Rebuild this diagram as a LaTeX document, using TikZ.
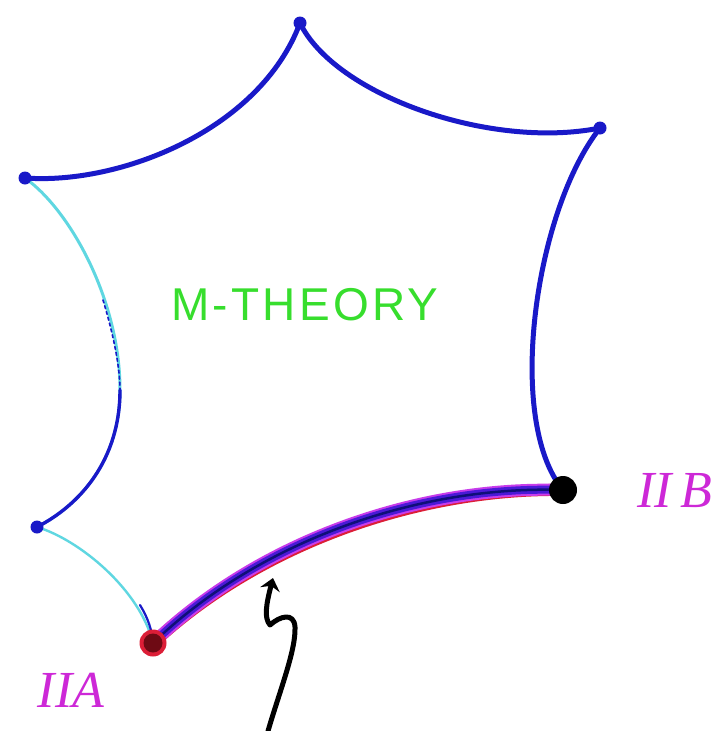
\documentclass[tikz,border=0pt]{standalone}
\usepackage{fontspec}
\setmainfont{Liberation Serif}
\newfontfamily\titlefont{Liberation Sans}
\usetikzlibrary{arrows.meta}
\definecolor{edgeblue}{RGB}{25,25,200}
\definecolor{edgecyan}{RGB}{95,215,225}
\definecolor{mgreen}{RGB}{55,222,45}
\definecolor{mmag}{RGB}{205,40,215}
\definecolor{stripred}{RGB}{220,30,55}
\definecolor{stripblue}{RGB}{75,25,215}
\definecolor{stripmag}{RGB}{200,60,235}
\definecolor{darkred}{RGB}{110,10,20}
\begin{document}
\begin{tikzpicture}[x=1pt,y=-1pt,
  bluedge/.style={edgeblue,line width=5pt,line cap=round},
  cyanedge/.style={edgecyan,line width=3pt,line cap=round},
  thinblue/.style={edgeblue,line width=2pt,line cap=round},
  vdot/.style={circle,fill=edgeblue,inner sep=0pt,minimum size=13pt},
  lab/.style={text=mmag,font=\itshape\fontsize{52}{56}\selectfont,inner sep=0pt}]
\useasboundingbox (0,0) rectangle (727,731);
\fill[white] (0,0) rectangle (727,731);
% corners
\coordinate (UL) at (25,178);
\coordinate (T) at (300,23);
\coordinate (TR) at (600,128);
\coordinate (B) at (563,490);
\coordinate (A) at (153,643);
\coordinate (LL) at (37,527);
\coordinate (LM) at (120,390);
% blue edges
\draw[bluedge] (UL) .. controls (120,185) and (260,130) .. (T);
\draw[bluedge] (T) .. controls (335,95) and (490,150) .. (TR);
\draw[bluedge] (TR) .. controls (535,210) and (505,420) .. (B);
% left edges (cyan with dark blue overlay)
\draw[cyanedge] (UL) .. controls (70,210) and (120,300) .. (LM);
\draw[cyanedge] (LM) .. controls (120,460) and (80,505) .. (LL);
\draw[thinblue,line width=1.6pt,dash pattern=on 3pt off 3pt] (103,300) .. controls (115,340) and (120,370) .. (LM);
\draw[thinblue,line width=3.4pt] (LM) .. controls (120,460) and (80,505) .. (LL);
\draw[cyanedge,line width=2.4pt] (LL) .. controls (80,540) and (140,590) .. (A);
\draw[thinblue,line width=2.2pt] (140,605) .. controls (148,618) and (152,630) .. (A);
% thick IIA--IIB strip
\begin{scope}[shift={(0,3)}]
\draw[stripred,line width=12pt,line cap=round] (B) .. controls (420,485) and (260,540) .. (A);
\end{scope}
\draw[stripmag,line width=12pt,line cap=round] (B) .. controls (420,485) and (260,540) .. (A);
\draw[stripblue,line width=8pt,line cap=round] (B) .. controls (420,485) and (260,540) .. (A);
\draw[edgeblue!60!black,line width=2.5pt] (B) .. controls (420,485) and (260,540) .. (A);
% vertex dots
\node[vdot] (dUL) at (UL) {};
\node[vdot] (dT) at (T) {};
\node[vdot] (dTR) at (TR) {};
\node[vdot] (dLL) at (LL) {};
\node[circle,fill=stripred,inner sep=0pt,minimum size=27pt] (dA) at (A) {};
\node[circle,fill=darkred,inner sep=0pt,minimum size=19pt] at (A) {};
\node[circle,fill=black,inner sep=0pt,minimum size=28pt] (dB) at (B) {};
% labels
\node[text=mgreen,font=\titlefont\fontsize{46}{50}\selectfont\addfontfeature{LetterSpace=7},inner sep=0pt] (mt) at (305,305) {M-THEORY};
\node[lab] (la) at (71,690) {IIA};
\node[lab] (lb) at (675,491) {II\,B};
% squiggly arrow
\coordinate (arrS) at (268,731);
\coordinate (arrE) at (273,578);
\draw[black,line width=5pt,line cap=round,line join=round,-{Stealth[length=12pt,width=20pt]}]
  (arrS) .. controls (280,690) and (296,650) .. (295,627)
  .. controls (294,612) and (280,616) .. (270,625)
  .. controls (264,618) and (266,605) .. (arrE);
\end{tikzpicture}
\end{document}
